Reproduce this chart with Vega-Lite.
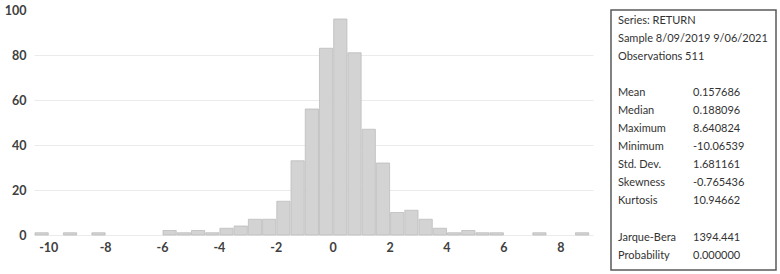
{
  "$schema": "https://vega.github.io/schema/vega-lite/v6.json",
  "padding": {"left": 4, "top": 4, "right": 3, "bottom": 0},
  "background": "white",
  "spacing": 18,
  "bounds": "flush",
  "config": {
    "font": "Lato",
    "axis": {"labelFont": "Lato", "labelFontSize": 12.5, "labelColor": "#404040", "labelFontWeight": "bold"}
  },
  "hconcat": [
    {
      "width": 559,
      "height": 225,
      "view": {"stroke": null},
      "data": {"values": [
        {"lo": -10.5, "hi": -10, "n": 1},
        {"lo": -9.5, "hi": -9, "n": 1},
        {"lo": -8.5, "hi": -8, "n": 1},
        {"lo": -6, "hi": -5.5, "n": 2},
        {"lo": -5.5, "hi": -5, "n": 1},
        {"lo": -5, "hi": -4.5, "n": 2},
        {"lo": -4.5, "hi": -4, "n": 1},
        {"lo": -4, "hi": -3.5, "n": 3},
        {"lo": -3.5, "hi": -3, "n": 4},
        {"lo": -3, "hi": -2.5, "n": 7},
        {"lo": -2.5, "hi": -2, "n": 7},
        {"lo": -2, "hi": -1.5, "n": 15},
        {"lo": -1.5, "hi": -1, "n": 33},
        {"lo": -1, "hi": -0.5, "n": 56},
        {"lo": -0.5, "hi": 0, "n": 83},
        {"lo": 0, "hi": 0.5, "n": 96},
        {"lo": 0.5, "hi": 1, "n": 81},
        {"lo": 1, "hi": 1.5, "n": 47},
        {"lo": 1.5, "hi": 2, "n": 32},
        {"lo": 2, "hi": 2.5, "n": 10},
        {"lo": 2.5, "hi": 3, "n": 11},
        {"lo": 3, "hi": 3.5, "n": 7},
        {"lo": 3.5, "hi": 4, "n": 3},
        {"lo": 4, "hi": 4.5, "n": 1},
        {"lo": 4.5, "hi": 5, "n": 2},
        {"lo": 5, "hi": 5.5, "n": 1},
        {"lo": 5.5, "hi": 6, "n": 1},
        {"lo": 7, "hi": 7.5, "n": 1},
        {"lo": 8.5, "hi": 9, "n": 1}
      ]},
      "mark": {"type": "bar", "fill": "#d3d3d3", "stroke": "#bcbcbc", "strokeWidth": 0.8},
      "encoding": {
        "x": {
          "field": "lo", "type": "quantitative", "bin": "binned",
          "scale": {"domain": [-10.5, 9.15], "nice": false, "zero": false},
          "axis": {"title": null, "values": [-10, -8, -6, -4, -2, 0, 2, 4, 6, 8], "labelExpr": "'' + datum.value", "grid": false, "ticks": false, "domain": false, "labelPadding": 6}
        },
        "x2": {"field": "hi"},
        "y": {
          "field": "n", "type": "quantitative",
          "scale": {"domain": [0, 100], "nice": false},
          "axis": {"title": null, "values": [0, 20, 40, 60, 80, 100], "grid": true, "gridColor": "#ebebeb",
                   "gridOpacity": {"condition": {"test": "datum.value == 100", "value": 0}, "value": 1},
                   "ticks": false, "domain": false, "labelPadding": 8}
        }
      }
    },
    {
      "width": 165,
      "height": 260,
      "view": {"stroke": "#5a5a5a", "strokeWidth": 1.5, "fill": "white"},
      "data": {"values": [
        {"col": 0, "line": 0, "t": "Series: RETURN"},
        {"col": 0, "line": 1, "t": "Sample 8/09/2019 9/06/2021"},
        {"col": 0, "line": 2, "t": "Observations 511"},
        {"col": 0, "line": 4, "t": "Mean"},
        {"col": 1, "line": 4, "t": "0.157686"},
        {"col": 0, "line": 5, "t": "Median"},
        {"col": 1, "line": 5, "t": "0.188096"},
        {"col": 0, "line": 6, "t": "Maximum"},
        {"col": 1, "line": 6, "t": "8.640824"},
        {"col": 0, "line": 7, "t": "Minimum"},
        {"col": 1, "line": 7, "t": "-10.06539"},
        {"col": 0, "line": 8, "t": "Std. Dev."},
        {"col": 1, "line": 8, "t": "1.681161"},
        {"col": 0, "line": 9, "t": "Skewness"},
        {"col": 1, "line": 9, "t": "-0.765436"},
        {"col": 0, "line": 10, "t": "Kurtosis"},
        {"col": 1, "line": 10, "t": "10.94662"},
        {"col": 0, "line": 12, "t": "Jarque-Bera"},
        {"col": 1, "line": 12, "t": "1394.441"},
        {"col": 0, "line": 13, "t": "Probability"},
        {"col": 1, "line": 13, "t": "0.000000"}
      ]},
      "mark": {"type": "text", "align": "left", "baseline": "middle", "font": "Lato", "fontSize": 11, "color": "#333333"},
      "encoding": {
        "x": {"field": "col", "type": "quantitative", "scale": {"domain": [-0.0933, 2.1067], "nice": false, "zero": false}, "axis": null},
        "y": {"field": "line", "type": "quantitative", "scale": {"domain": [-0.6, 13.8], "nice": false, "zero": false, "reverse": true}, "axis": null},
        "text": {"field": "t"}
      }
    }
  ]
}
